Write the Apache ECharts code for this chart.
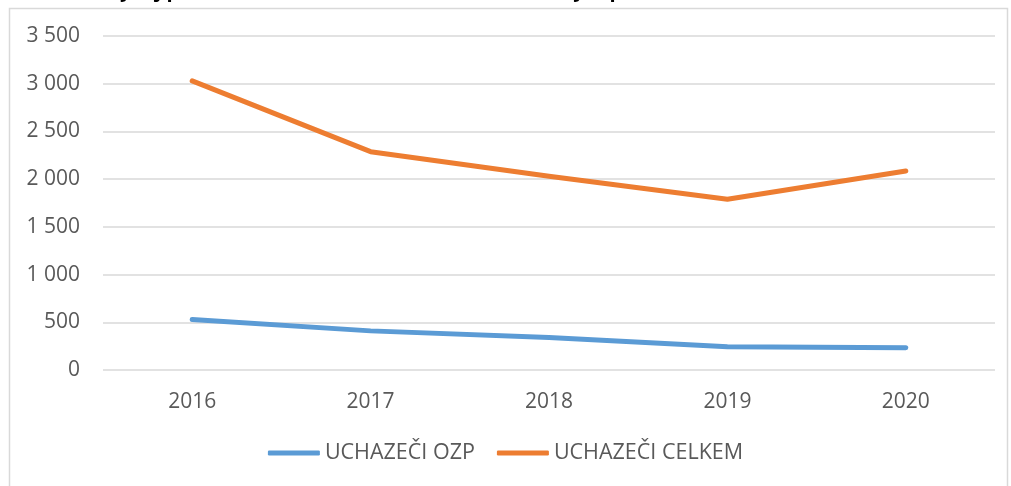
<!DOCTYPE html>
<html><head><meta charset="utf-8">
<script src="https://cdn.jsdelivr.net/npm/echarts@6/dist/echarts.min.js"></script>
<style>html,body{margin:0;padding:0;background:#fff}#c{width:1011px;height:486px}</style>
</head><body><div id="c"></div>
<script>
const categories = ['2016', '2017', '2018', '2019', '2020'];
const uchazeciOzp = [530, 410, 340, 244, 234];
const uchazeciCelkem = [3030, 2288, 2030, 1789, 2086];
const seriesNames = ['UCHAZEČI OZP', 'UCHAZEČI CELKEM'];
const titleText = 'Graf č. 1: Vývoj počtu uchazečů OZP ve srovnání s celkovým počtem uchazečů';

const fmt = v => String(v).replace(/\B(?=(\d{3})+(?!\d))/g, ' ');
const chart = echarts.init(document.getElementById('c'), null, {renderer: 'canvas'});
const font = '"Open Sans", "Noto Sans", sans-serif';
chart.setOption({
  animation: false,
  textStyle: {fontFamily: font},
  title: {text: titleText, left: 10, top: -24, textStyle: {fontSize: 20, fontWeight: 'bold', color: '#000', fontFamily: font}},
  graphic: [{type: 'rect', shape: {x: 9.5, y: 8.5, width: 998, height: 490}, style: {fill: 'none', stroke: '#d9d9d9', lineWidth: 1.5}, z: -1}],
  grid: {left: 103, right: 16, top: 36, bottom: 116},
  legend: {
    bottom: 17, left: 'center', itemWidth: 52, itemHeight: 5, itemGap: 22,
    icon: 'roundRect',
    textStyle: {fontSize: 21.5, color: '#595959', fontFamily: font},
    data: seriesNames
  },
  xAxis: {
    type: 'category', data: categories, boundaryGap: true,
    axisLine: {show: false}, axisTick: {show: false},
    axisLabel: {color: '#595959', fontSize: 21, margin: 22, fontFamily: font}
  },
  yAxis: {
    type: 'value', min: 0, max: 3500, interval: 500,
    axisLine: {show: false}, axisTick: {show: false},
    axisLabel: {color: '#595959', fontSize: 21, margin: 23, formatter: fmt, fontFamily: font},
    splitLine: {lineStyle: {color: '#d9d9d9', width: 1.5}}
  },
  series: [
    {name: seriesNames[0], type: 'line', data: uchazeciOzp, symbol: 'none', color: '#5b9bd5',
     lineStyle: {width: 5, color: '#5b9bd5', cap: 'round', join: 'round'}},
    {name: seriesNames[1], type: 'line', data: uchazeciCelkem, symbol: 'none', color: '#ed7d31',
     lineStyle: {width: 5, color: '#ed7d31', cap: 'round', join: 'round'}}
  ]
});
</script></body></html>
